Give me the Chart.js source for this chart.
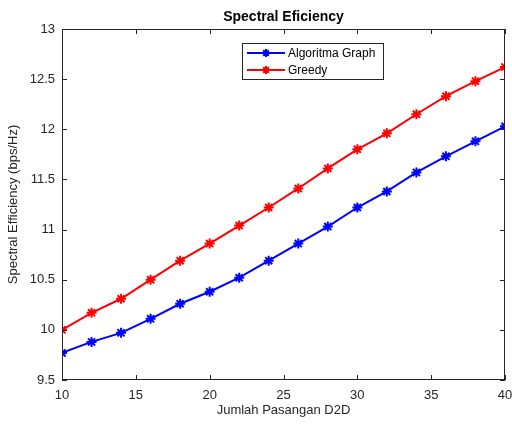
<!DOCTYPE html>
<html>
<head>
<meta charset="utf-8">
<script src="https://cdn.jsdelivr.net/npm/chart.js@4"></script>
<style>
  html, body { margin: 0; padding: 0; background: #fff; }
  #wrap { width: 512px; height: 426px; }
</style>
</head>
<body>
<div id="wrap"><canvas id="chart" width="512" height="426"></canvas></div>
<script>
// jumlah pasangan D2D
const pasangan = [10, 12, 14, 16, 18, 20, 22, 24, 26, 28, 30, 32, 34, 36, 38, 40];
const algoritmaGraph = [9.77, 9.88, 9.97, 10.11, 10.26, 10.38, 10.52, 10.69, 10.86, 11.03, 11.22, 11.38, 11.57, 11.73, 11.88, 12.03];
const greedy = [10.00, 10.17, 10.31, 10.50, 10.69, 10.86, 11.04, 11.22, 11.41, 11.61, 11.80, 11.96, 12.15, 12.33, 12.48, 12.62];
const xTicks = [10, 15, 20, 25, 30, 35, 40];
const yTicks = [9.5, 10, 10.5, 11, 11.5, 12, 12.5, 13];
const judul = 'Spectral Eficiency';

const axisColor = '#262626';
const fontFamily = 'Arial, "Liberation Sans", Helvetica, sans-serif';

// kotak + tick ke dalam ala matlab, judul di tengah area plot
const boxPlugin = {
  id: 'box',
  afterDatasetsDraw(chart) {
    const { ctx, chartArea: a, scales } = chart;
    ctx.save();
    ctx.strokeStyle = axisColor;
    ctx.lineWidth = 1;
    ctx.strokeRect(a.left + 0.5, a.top + 0.5, a.right - a.left - 1, a.bottom - a.top - 1);
    ctx.beginPath();
    xTicks.forEach(v => {
      const px = Math.round(scales.x.getPixelForValue(v)) + 0.5;
      ctx.moveTo(px, a.bottom); ctx.lineTo(px, a.bottom - 5);
      ctx.moveTo(px, a.top); ctx.lineTo(px, a.top + 5);
    });
    yTicks.forEach(v => {
      const py = Math.round(scales.y.getPixelForValue(v)) + 0.5;
      ctx.moveTo(a.left, py); ctx.lineTo(a.left + 5, py);
      ctx.moveTo(a.right, py); ctx.lineTo(a.right - 5, py);
    });
    ctx.stroke();

    ctx.fillStyle = '#000';
    ctx.font = 'bold 14px ' + fontFamily;
    ctx.textAlign = 'center';
    ctx.textBaseline = 'middle';
    ctx.fillText(judul, (a.left + a.right) / 2, a.top - 12);
    ctx.restore();
  }
};

// legenda dengan garis + marker
const legendPlugin = {
  id: 'legendBox',
  afterDraw(chart) {
    const { ctx } = chart;
    const bx = 242, by = 43, bw = 141, bh = 36;
    ctx.save();
    ctx.fillStyle = '#fff';
    ctx.fillRect(bx, by, bw, bh);
    ctx.strokeStyle = axisColor;
    ctx.lineWidth = 1;
    ctx.strokeRect(bx + 0.5, by + 0.5, bw, bh);
    ctx.font = '12px ' + fontFamily;
    ctx.textBaseline = 'middle';
    chart.data.datasets.forEach((ds, i) => {
      const y = by + 10 + i * 17;
      ctx.strokeStyle = ds.borderColor;
      ctx.fillStyle = ds.borderColor;
      ctx.lineWidth = 2;
      ctx.beginPath();
      ctx.moveTo(bx + 5, y); ctx.lineTo(bx + 43, y);
      ctx.stroke();
      Chart.helpers.drawPoint(ctx, { pointStyle: 'star', radius: 4, borderWidth: 2 }, bx + 24, y);
      ctx.fillStyle = '#000';
      ctx.fillText(ds.label, bx + 46, y + 1);
    });
    ctx.restore();
  }
};

const fmt = v => String(v);

new Chart(document.getElementById('chart'), {
  type: 'line',
  data: {
    datasets: [
      {
        label: 'Algoritma Graph',
        data: pasangan.map((x, i) => ({ x: x, y: algoritmaGraph[i] })),
        borderColor: '#0000ff',
        backgroundColor: '#0000ff',
        borderWidth: 2,
        pointStyle: 'star',
        pointRadius: 5,
        pointBorderWidth: 2,
        tension: 0
      },
      {
        label: 'Greedy',
        data: pasangan.map((x, i) => ({ x: x, y: greedy[i] })),
        borderColor: '#ff0000',
        backgroundColor: '#ff0000',
        borderWidth: 2,
        pointStyle: 'star',
        pointRadius: 5,
        pointBorderWidth: 2,
        tension: 0
      }
    ]
  },
  options: {
    responsive: false,
    animation: false,
    layout: { padding: { left: 0, right: 6, top: 29, bottom: 0 } },
    plugins: {
      legend: { display: false },
      tooltip: { enabled: false },
      title: { display: false }
    },
    scales: {
      x: {
        type: 'linear',
        min: 10,
        max: 40,
        afterBuildTicks: s => { s.ticks = xTicks.map(v => ({ value: v })); },
        afterFit: s => { s.height = 46; s.paddingRight = 0; s.paddingLeft = 0; },
        grid: { display: false, drawTicks: false },
        border: { display: false },
        ticks: { color: axisColor, font: { family: fontFamily, size: 13 }, padding: 8, maxRotation: 0, callback: fmt },
        title: {
          display: true,
          text: 'Jumlah Pasangan D2D',
          color: axisColor,
          font: { family: fontFamily, size: 13 },
          padding: { top: 0, bottom: 8 }
        }
      },
      y: {
        type: 'linear',
        min: 9.5,
        max: 13,
        afterBuildTicks: s => { s.ticks = yTicks.map(v => ({ value: v })); },
        afterFit: s => { s.width = 62; },
        grid: { display: false, drawTicks: false },
        border: { display: false },
        ticks: { color: axisColor, font: { family: fontFamily, size: 13 }, padding: 7, callback: fmt },
        title: {
          display: true,
          text: 'Spectral Efficiency (bps/Hz)',
          color: axisColor,
          font: { family: fontFamily, size: 13 },
          padding: { top: 6, bottom: 0 }
        }
      }
    }
  },
  plugins: [boxPlugin, legendPlugin]
});
</script>
</body>
</html>
